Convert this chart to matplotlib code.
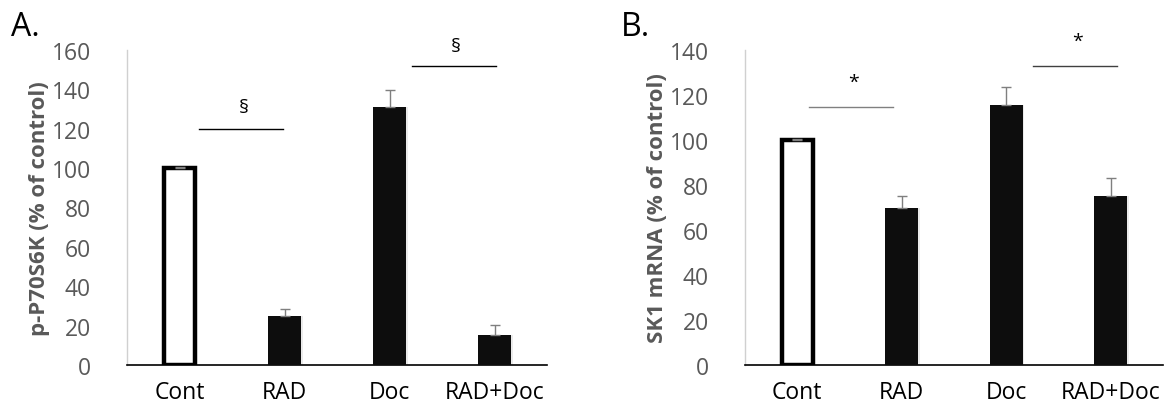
import matplotlib
matplotlib.use("Agg")
import matplotlib.pyplot as plt

categories = ["Cont", "RAD", "Doc", "RAD+Doc"]
a_values = [100, 25, 131, 15]
a_errors = [0.5, 3.4, 8.5, 5.2]
b_values = [100, 70, 115.5, 75]
b_errors = [0.5, 5.3, 8, 8.2]
a_yticks = [0, 20, 40, 60, 80, 100, 120, 140, 160]
b_yticks = [0, 20, 40, 60, 80, 100, 120, 140]

# significance annotations: (x_start, x_end, y, symbol_y, symbol)
a_sig = [(0.19, 0.99, 120, 131, "§"), (2.21, 3.01, 152, 162, "§")]
b_sig = [(0.11, 0.92, 114.6, 126, "*"), (2.26, 3.06, 133, 144, "*")]
b_sig_colors = ["#808080", "#404040"]

plt.rcParams['font.family'] = ['Open Sans', 'DejaVu Sans']

fig = plt.figure(figsize=(11.69, 4.14), dpi=100)
axA = fig.add_axes([127/1169, 48/414, 420/1169, 315/414])
axB = fig.add_axes([745/1169, 48/414, 418/1169, 315/414])

def draw(ax, values, errors, ymax, yticks, ylabel, sig, sig_colors):
    x = list(range(len(categories)))
    for i, (v, e) in enumerate(zip(values, errors)):
        if i == 0:
            ax.bar(i, v, width=0.30, color="white", edgecolor="black", linewidth=3.2, zorder=3)
        else:
            ax.bar(i + 0.008, v, width=0.33, color="#d8d8d8", edgecolor="none", zorder=2, alpha=0.5)
            ax.bar(i, v, width=0.32, color="#0d0d0d", edgecolor="none", zorder=3)
        ax.errorbar(i, v, yerr=[[0], [e]], fmt="none", ecolor="#7f7f7f",
                    elinewidth=1.0, capsize=3.5, capthick=1.0, zorder=4)
    ax.set_xlim(-0.5, 3.5)
    ax.set_ylim(0, ymax)
    ax.set_yticks(yticks)
    ax.set_xticks(x)
    ax.set_xticklabels(categories, fontsize=16.5, color="black")
    ax.tick_params(axis="y", length=0, pad=26, labelsize=16.5, labelcolor="#595959")
    ax.tick_params(axis="x", length=0, pad=11)
    for lbl in ax.get_yticklabels():
        lbl.set_horizontalalignment("right")
    ax.spines["top"].set_visible(False)
    ax.spines["right"].set_visible(False)
    ax.spines["left"].set_color("#d0d0d0")
    ax.spines["left"].set_linewidth(1.0)
    ax.spines["bottom"].set_color("black")
    ax.spines["bottom"].set_linewidth(1.2)
    ax.set_ylabel(ylabel, fontsize=16, fontweight="bold", color="#595959", labelpad=1)
    for (x0, x1, y, ys, s), c in zip(sig, sig_colors):
        ax.plot([x0, x1], [y, y], color=c, linewidth=1.0, clip_on=False, zorder=5)
        ax.text((x0 + x1) / 2 + 0.02, ys, s, ha="center", va="center", fontsize=14,
                color="black", clip_on=False)

draw(axA, a_values, a_errors, 160, a_yticks, "p-P70S6K (% of control)", a_sig, ["black", "black"])
draw(axB, b_values, b_errors, 140, b_yticks, "SK1 mRNA (% of control)", b_sig, b_sig_colors)

fig.text(11/1169, 1 - 28/414, "A.", fontsize=23, ha="left", va="center", color="black")
fig.text(621/1169, 1 - 28/414, "B.", fontsize=23, ha="left", va="center", color="black")

fig.savefig("out.png", dpi=100)
